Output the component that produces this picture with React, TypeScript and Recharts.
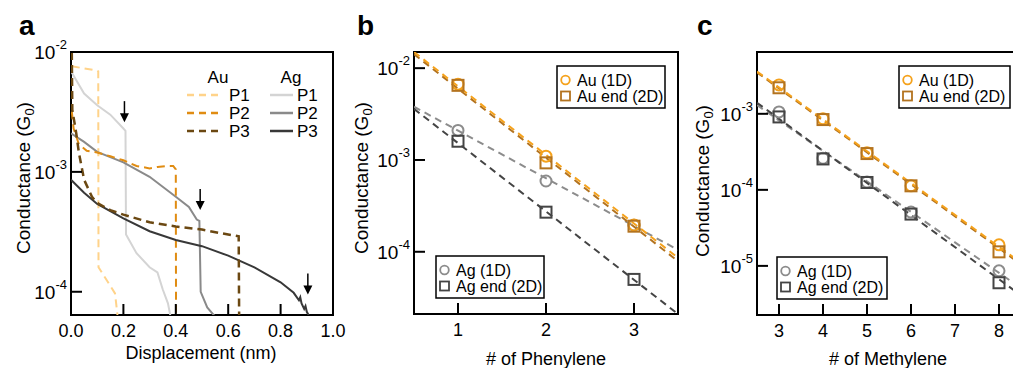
import * as React from "react";
import { ComposedChart, Line, Scatter, XAxis, YAxis, ReferenceArea } from "recharts";

const FONT = '"Liberation Sans", Arial, Helvetica, sans-serif';

// ---- panel a: single traces (displacement nm, conductance G0)
const auP1 = [
  { x: 0.003, y: 7.6e-3 }, { x: 0.05, y: 7.3e-3 }, { x: 0.1, y: 7.0e-3 }, { x: 0.104, y: 6.9e-3 },
  { x: 0.105, y: 1.6e-4 }, { x: 0.168, y: 9.7e-5 }, { x: 0.177, y: 6.5e-5 }, { x: 0.178, y: 5e-5 },
];
const auP2 = [
  { x: 0.003, y: 3.2e-3 }, { x: 0.01, y: 2.3e-3 }, { x: 0.03, y: 1.7e-3 }, { x: 0.06, y: 1.5e-3 },
  { x: 0.1, y: 1.45e-3 }, { x: 0.15, y: 1.35e-3 }, { x: 0.2, y: 1.25e-3 }, { x: 0.25, y: 1.12e-3 },
  { x: 0.3, y: 1.07e-3 }, { x: 0.33, y: 1.1e-3 }, { x: 0.37, y: 1.12e-3 }, { x: 0.39, y: 1.12e-3 },
  { x: 0.4, y: 1.05e-3 }, { x: 0.401, y: 5e-5 },
];
const auP3 = [
  { x: 0.003, y: 1e-2 }, { x: 0.005, y: 3.3e-3 }, { x: 0.02, y: 2.1e-3 }, { x: 0.03, y: 1.45e-3 },
  { x: 0.05, y: 8.6e-4 }, { x: 0.08, y: 6.2e-4 }, { x: 0.1, y: 5.5e-4 }, { x: 0.15, y: 4.8e-4 },
  { x: 0.2, y: 4.4e-4 }, { x: 0.3, y: 3.8e-4 }, { x: 0.4, y: 3.5e-4 }, { x: 0.5, y: 3.3e-4 },
  { x: 0.6, y: 3.0e-4 }, { x: 0.64, y: 2.9e-4 }, { x: 0.642, y: 5e-5 },
];
const agP1 = [
  { x: 0.0, y: 6.9e-3 }, { x: 0.05, y: 4.5e-3 }, { x: 0.1, y: 3.6e-3 }, { x: 0.15, y: 3.0e-3 },
  { x: 0.2, y: 2.3e-3 }, { x: 0.208, y: 2.2e-3 }, { x: 0.21, y: 3.0e-4 }, { x: 0.25, y: 2.1e-4 },
  { x: 0.3, y: 1.6e-4 }, { x: 0.33, y: 1.45e-4 }, { x: 0.35, y: 1.05e-4 }, { x: 0.37, y: 8e-5 },
  { x: 0.38, y: 6.2e-5 },
];
const agP2 = [
  { x: 0.0, y: 2.1e-3 }, { x: 0.05, y: 1.78e-3 }, { x: 0.1, y: 1.47e-3 }, { x: 0.2, y: 1.2e-3 },
  { x: 0.3, y: 9.1e-4 }, { x: 0.4, y: 6.2e-4 }, { x: 0.45, y: 5.1e-4 }, { x: 0.48, y: 4e-4 },
  { x: 0.49, y: 3.9e-4 }, { x: 0.495, y: 1.0e-4 }, { x: 0.52, y: 7.4e-5 }, { x: 0.55, y: 6.2e-5 },
];
const agP3 = [
  { x: 0.0, y: 8.6e-4 }, { x: 0.05, y: 6.7e-4 }, { x: 0.1, y: 5.4e-4 }, { x: 0.2, y: 4.1e-4 },
  { x: 0.3, y: 3.2e-4 }, { x: 0.4, y: 2.7e-4 }, { x: 0.5, y: 2.4e-4 }, { x: 0.6, y: 2.0e-4 },
  { x: 0.7, y: 1.6e-4 }, { x: 0.8, y: 1.2e-4 }, { x: 0.85, y: 9.8e-5 }, { x: 0.87, y: 8.5e-5 },
  { x: 0.875, y: 9e-5 }, { x: 0.88, y: 8e-5 }, { x: 0.89, y: 7.2e-5 }, { x: 0.895, y: 7.6e-5 },
  { x: 0.9, y: 6.8e-5 }, { x: 0.91, y: 6.2e-5 },
];
const arrowsA = [{ x: 0.204, y: 2.6e-3 }, { x: 0.493, y: 4.8e-4 }, { x: 0.904, y: 9.5e-5 }];
const ticksAx = [0, 0.2, 0.4, 0.6, 0.8, 1.0];
const ticksAy = [1e-4, 1e-3, 1e-2];

// ---- panel b: phenylene
const auB1D = [{ x: 1, y: 6.7e-3 }, { x: 2, y: 1.1e-3 }, { x: 3, y: 1.96e-4 }];
const auB2D = [{ x: 1, y: 6.5e-3 }, { x: 2, y: 9.3e-4 }, { x: 3, y: 1.9e-4 }];
const agB1D = [{ x: 1, y: 2.1e-3 }, { x: 2, y: 5.9e-4 }, { x: 3, y: 1.95e-4 }];
const agB2D = [{ x: 1, y: 1.6e-3 }, { x: 2, y: 2.7e-4 }, { x: 3, y: 5e-5 }];
const fitAuB1D = [{ x: 0.5, y: 1.5e-2 }, { x: 3.5, y: 8.6e-5 }];
const fitAuB2D = [{ x: 0.5, y: 1.42e-2 }, { x: 3.5, y: 7.9e-5 }];
const fitAgB1D = [{ x: 0.5, y: 3.8e-3 }, { x: 3.5, y: 1.05e-4 }];
const fitAgB2D = [{ x: 0.5, y: 3.6e-3 }, { x: 3.5, y: 2.1e-5 }];
const ticksBx = [1, 2, 3];
const ticksBy = [1e-4, 1e-3, 1e-2];

// ---- panel c: methylene
const auC1D = [{ x: 3, y: 2.4e-3 }, { x: 4, y: 8.6e-4 }, { x: 5, y: 3.07e-4 }, { x: 6, y: 1.13e-4 }, { x: 8, y: 1.89e-5 }];
const auC2D = [{ x: 3, y: 2.2e-3 }, { x: 4, y: 8.4e-4 }, { x: 5, y: 3.0e-4 }, { x: 6, y: 1.13e-4 }, { x: 8, y: 1.53e-5 }];
const agC1D = [{ x: 3, y: 1.06e-3 }, { x: 4, y: 2.6e-4 }, { x: 5, y: 1.27e-4 }, { x: 6, y: 5.1e-5 }, { x: 8, y: 8.6e-6 }];
const agC2D = [{ x: 3, y: 9.1e-4 }, { x: 4, y: 2.55e-4 }, { x: 5, y: 1.25e-4 }, { x: 6, y: 4.8e-5 }, { x: 8, y: 6e-6 }];
const fitAuC1D = [{ x: 2.5, y: 3.6e-3 }, { x: 8.5, y: 1.1e-5 }];
const fitAuC2D = [{ x: 2.5, y: 3.5e-3 }, { x: 8.5, y: 1.05e-5 }];
const fitAgC1D = [{ x: 2.5, y: 1.3e-3 }, { x: 8.5, y: 5.1e-6 }];
const fitAgC2D = [{ x: 2.5, y: 1.4e-3 }, { x: 8.5, y: 4.1e-6 }];
const ticksCx = [3, 4, 5, 6, 7, 8];
const ticksCy = [1e-5, 1e-4, 1e-3];

const C = {
  auP1: "#FFD38A", auP2: "#E08C12", auP3: "#6B4812",
  agP1: "#D4D4D4", agP2: "#8A8A8A", agP3: "#383838",
  au1D: "#F5A21C", au2D: "#B3731F", ag1D: "#8C8C8C", ag2D: "#444444",
};

function LogTick(props: any) {
  const { x, y, payload } = props;
  const exp = Math.round(Math.log10(payload.value));
  return (
    <g>
      <line x1={x} y1={y} x2={x + 11} y2={y} stroke="#000" strokeWidth={2} />
      <text x={x - 4} y={y + 7} textAnchor="end" fontSize={19} fill="#000" fontFamily={FONT}>
        10<tspan dy={-10} fontSize={13}>{exp}</tspan>
      </text>
    </g>
  );
}

function XTick(props: any) {
  const { x, y, payload, digits } = props;
  return (
    <g>
      <line x1={x} y1={y} x2={x} y2={y - 11} stroke="#000" strokeWidth={2} />
      <text x={x} y={y + 22} textAnchor="middle" fontSize={18} fill="#000" fontFamily={FONT}>
        {payload.value.toFixed(digits || 0)}
      </text>
    </g>
  );
}

const openCircle = (color: string) => (p: any) => (
  <circle cx={p.cx} cy={p.cy} r={5.5} fill="none" stroke={color} strokeWidth={2} />
);
const openSquare = (color: string) => (p: any) => (
  <rect x={p.cx - 5.5} y={p.cy - 5.5} width={11} height={11} fill="none" stroke={color} strokeWidth={2} />
);
const arrowShape = (p: any) => (
  <g>
    <line x1={p.cx} y1={p.cy - 21} x2={p.cx} y2={p.cy - 6} stroke="#000" strokeWidth={1.5} />
    <path d={`M${p.cx - 4.5},${p.cy - 9} L${p.cx + 4.5},${p.cy - 9} L${p.cx},${p.cy} Z`} fill="#000" />
  </g>
);

function axes(xDomain: number[], xTicks: number[], yDomain: number[], yTicks: number[], digits: number) {
  return [
    <XAxis key="x" type="number" dataKey="x" domain={xDomain} ticks={xTicks} allowDataOverflow
      height={30} tickSize={0} tickMargin={0} tickLine={false} axisLine={false}
      tick={<XTick digits={digits} />} interval={0} />,
    <YAxis key="y" type="number" dataKey="y" scale="log" domain={yDomain} ticks={yTicks} allowDataOverflow
      width={60} tickSize={0} tickMargin={0} tickLine={false} axisLine={false}
      tick={<LogTick />} interval={0} />,
  ];
}

function PanelA() {
  const yd = [6.4e-5, 1e-2];
  return (
    <ComposedChart width={340} height={368} margin={{ top: 52, right: 7, bottom: 23, left: 11 }}>
      {axes([0, 1], ticksAx, yd, ticksAy, 1)}
      <Line data={agP1} dataKey="y" stroke={C.agP1} strokeWidth={2} dot={false} isAnimationActive={false} />
      <Line data={auP1} dataKey="y" stroke={C.auP1} strokeWidth={2} strokeDasharray="8 5" dot={false} isAnimationActive={false} />
      <Line data={agP2} dataKey="y" stroke={C.agP2} strokeWidth={2} dot={false} isAnimationActive={false} />
      <Line data={auP2} dataKey="y" stroke={C.auP2} strokeWidth={2} strokeDasharray="8 5" dot={false} isAnimationActive={false} />
      <Line data={agP3} dataKey="y" stroke={C.agP3} strokeWidth={2} dot={false} isAnimationActive={false} />
      <Line data={auP3} dataKey="y" stroke={C.auP3} strokeWidth={2.5} strokeDasharray="8 5" dot={false} isAnimationActive={false} />
      <Scatter data={arrowsA} dataKey="y" shape={arrowShape} isAnimationActive={false} />
      <ReferenceArea x1={0} x2={1} y1={yd[0]} y2={yd[1]} fill="#fff" fillOpacity={0} stroke="#000" strokeWidth={2} />
    </ComposedChart>
  );
}

function PanelB() {
  const yd = [2.1e-5, 1.5e-2];
  return (
    <ComposedChart width={340} height={368} margin={{ top: 52, right: 2, bottom: 24, left: 14 }}>
      {axes([0.5, 3.5], ticksBx, yd, ticksBy, 0)}
      <Line data={fitAgB1D} dataKey="y" stroke={C.ag1D} strokeWidth={2} strokeDasharray="7 5" dot={false} isAnimationActive={false} />
      <Line data={fitAgB2D} dataKey="y" stroke={C.ag2D} strokeWidth={2} strokeDasharray="7 5" dot={false} isAnimationActive={false} />
      <Line data={fitAuB2D} dataKey="y" stroke={C.au2D} strokeWidth={2} strokeDasharray="7 5" dot={false} isAnimationActive={false} />
      <Line data={fitAuB1D} dataKey="y" stroke={C.au1D} strokeWidth={2} strokeDasharray="7 5" dot={false} isAnimationActive={false} />
      <Scatter data={agB1D} dataKey="y" shape={openCircle(C.ag1D)} isAnimationActive={false} />
      <Scatter data={agB2D} dataKey="y" shape={openSquare(C.ag2D)} isAnimationActive={false} />
      <Scatter data={auB1D} dataKey="y" shape={openCircle(C.au1D)} isAnimationActive={false} />
      <Scatter data={auB2D} dataKey="y" shape={openSquare(C.au2D)} isAnimationActive={false} />
      <ReferenceArea x1={0.5} x2={3.5} y1={yd[0]} y2={yd[1]} fill="#fff" fillOpacity={0} stroke="#000" strokeWidth={2} />
    </ComposedChart>
  );
}

function PanelC() {
  const yd = [2.26e-6, 6.5e-3];
  return (
    <ComposedChart width={345} height={368} margin={{ top: 52, right: 4, bottom: 23, left: 17 }}>
      {axes([2.5, 8.5], ticksCx, yd, ticksCy, 0)}
      <Line data={fitAgC1D} dataKey="y" stroke={C.ag1D} strokeWidth={2} strokeDasharray="7 5" dot={false} isAnimationActive={false} />
      <Line data={fitAgC2D} dataKey="y" stroke={C.ag2D} strokeWidth={2} strokeDasharray="7 5" dot={false} isAnimationActive={false} />
      <Line data={fitAuC2D} dataKey="y" stroke={C.au2D} strokeWidth={2} strokeDasharray="7 5" dot={false} isAnimationActive={false} />
      <Line data={fitAuC1D} dataKey="y" stroke={C.au1D} strokeWidth={2} strokeDasharray="7 5" dot={false} isAnimationActive={false} />
      <Scatter data={agC1D} dataKey="y" shape={openCircle(C.ag1D)} isAnimationActive={false} />
      <Scatter data={agC2D} dataKey="y" shape={openSquare(C.ag2D)} isAnimationActive={false} />
      <Scatter data={auC1D} dataKey="y" shape={openCircle(C.au1D)} isAnimationActive={false} />
      <Scatter data={auC2D} dataKey="y" shape={openSquare(C.au2D)} isAnimationActive={false} />
      <ReferenceArea x1={2.5} x2={8.5} y1={yd[0]} y2={yd[1]} fill="#fff" fillOpacity={0} stroke="#000" strokeWidth={2} />
    </ComposedChart>
  );
}

function YTitle({ x, y }: { x: number; y: number }) {
  return (
    <text transform={`translate(${x},${y}) rotate(-90)`} textAnchor="middle" fontSize={19} fill="#000">
      Conductance (G<tspan fontSize={13} dy={4}>0</tspan><tspan dy={-4}>)</tspan>
    </text>
  );
}

function BoxLegend({ x, y, w, items }: { x: number; y: number; w: number; items: { label: string; color: string; square: boolean }[] }) {
  return (
    <g>
      <rect x={x} y={y} width={w} height={42} fill="#fff" stroke="#000" strokeWidth={1.5} />
      {items.map((it, i) => {
        const cy = y + 14 + i * 16;
        return (
          <g key={it.label}>
            {it.square
              ? <rect x={x + 4} y={cy - 4.5} width={9} height={9} fill="none" stroke={it.color} strokeWidth={1.8} />
              : <circle cx={x + 8.5} cy={cy} r={4.3} fill="none" stroke={it.color} strokeWidth={1.8} />}
            <text x={x + 20} y={cy + 6} fontSize={16} fill="#000">{it.label}</text>
          </g>
        );
      })}
    </g>
  );
}

function LegendA() {
  const rows = [
    { n: "P1", au: C.auP1, ag: C.agP1, y: 95 },
    { n: "P2", au: C.auP2, ag: C.agP2, y: 113 },
    { n: "P3", au: C.auP3, ag: C.agP3, y: 131 },
  ];
  return (
    <g fontSize={17} fill="#000">
      <text x={218} y={83} textAnchor="middle">Au</text>
      <text x={291} y={83} textAnchor="middle">Ag</text>
      {rows.map((r) => (
        <g key={r.n}>
          <line x1={187} y1={r.y} x2={218} y2={r.y} stroke={r.au} strokeWidth={2.5} strokeDasharray="7 5" />
          <text x={229} y={r.y + 6}>{r.n}</text>
          <line x1={270} y1={r.y} x2={293} y2={r.y} stroke={r.ag} strokeWidth={2.5} />
          <text x={297} y={r.y + 6}>{r.n}</text>
        </g>
      ))}
    </g>
  );
}

export default function App() {
  return (
    <div style={{ position: "absolute", left: 0, top: 0, width: 1013, height: 368, overflow: "hidden", background: "#fff", fontFamily: FONT }}>
      <style>{`.recharts-surface { overflow: visible; }`}</style>
      <div style={{ position: "absolute", left: 0, top: 0 }}><PanelA /></div>
      <div style={{ position: "absolute", left: 340, top: 0 }}><PanelB /></div>
      <div style={{ position: "absolute", left: 680, top: 0 }}><PanelC /></div>
      <svg width={1013} height={368} style={{ position: "absolute", left: 0, top: 0, pointerEvents: "none" }} fontFamily={FONT}>
        <text x={19} y={35} fontSize={28} fontWeight="bold">a</text>
        <text x={357} y={35} fontSize={28} fontWeight="bold">b</text>
        <text x={697} y={35} fontSize={28} fontWeight="bold">c</text>
        <YTitle x={30} y={178} />
        <YTitle x={368} y={178} />
        <YTitle x={709} y={181} />
        <text x={201} y={359} textAnchor="middle" fontSize={18}>Displacement (nm)</text>
        <text x={546} y={365} textAnchor="middle" fontSize={18}># of Phenylene</text>
        <text x={888} y={365} textAnchor="middle" fontSize={18}># of Methylene</text>
        <LegendA />
        <BoxLegend x={557} y={66} w={108} items={[{ label: "Au (1D)", color: C.au1D, square: false }, { label: "Au end (2D)", color: C.au2D, square: true }]} />
        <BoxLegend x={436} y={256} w={108} items={[{ label: "Ag (1D)", color: C.ag1D, square: false }, { label: "Ag end (2D)", color: C.ag2D, square: true }]} />
        <BoxLegend x={899} y={66} w={111} items={[{ label: "Au (1D)", color: C.au1D, square: false }, { label: "Au end (2D)", color: C.au2D, square: true }]} />
        <BoxLegend x={777} y={257} w={110} items={[{ label: "Ag (1D)", color: C.ag1D, square: false }, { label: "Ag end (2D)", color: C.ag2D, square: true }]} />
      </svg>
    </div>
  );
}
